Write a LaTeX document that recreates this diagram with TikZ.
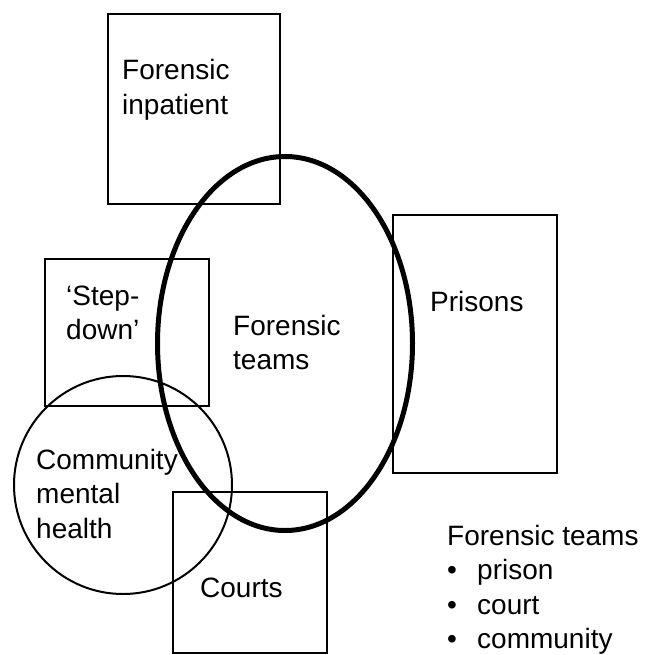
\documentclass[tikz,border=0pt]{standalone}
\usepackage{fontspec}
\setmainfont{Liberation Sans}
\usetikzlibrary{shapes.geometric,positioning}
\newcommand{\txtlines}[1]{\begin{tabular}[t]{@{}l@{}}#1\end{tabular}}
\tikzset{
    block/.style = {draw, rectangle, line width=2pt,
        inner sep=0pt, outer sep=0pt, anchor=north west},
    ring/.style = {draw, circle, line width=2pt, inner sep=0pt},
    team/.style = {draw, ellipse, line width=5pt, inner sep=0pt},
    lbl/.style = {anchor=base west, inner sep=0pt,
        font=\fontsize{28}{34.5}\selectfont}
}
\begin{document}
\begin{tikzpicture}[x=1pt, y=-1pt]
        \useasboundingbox (0,0) rectangle (646,655);
        \node [block, minimum width=172pt, minimum height=190pt] (inpatient) at (108,14) {};
        \node [block, minimum width=164pt, minimum height=147pt] (stepdown) at (45,259) {};
        \node [block, minimum width=164pt, minimum height=258pt] (prisons) at (393,215) {};
        \node [block, minimum width=154pt, minimum height=161pt] (courts) at (173,492) {};
        \node [ring, minimum size=218pt] (cmh) at (123,485) {};
        \node [team, minimum width=255pt, minimum height=374pt] (teams) at (285,343.5) {};
        \node [lbl] (inpatienttxt) at (122,80) {\txtlines{Forensic\\inpatient}};
        \node [lbl] (stepdowntxt) at (66,305) {\txtlines{`Step-\\down'}};
        \node [lbl] (teamstxt) at (233,335) {\txtlines{Forensic\\teams}};
        \node [lbl] (prisonstxt) at (430,311) {Prisons};
        \node [lbl] (cmhtxt) at (36,469) {\txtlines{Community\\mental\\health}};
        \node [lbl] (courtstxt) at (200,597) {Courts};
        \node [lbl] (legend) at (447,545) {\txtlines{Forensic teams\\
            \makebox[30pt][l]{\textbullet}prison\\
            \makebox[30pt][l]{\textbullet}court\\
            \makebox[30pt][l]{\textbullet}community}};
\end{tikzpicture}
\end{document}
